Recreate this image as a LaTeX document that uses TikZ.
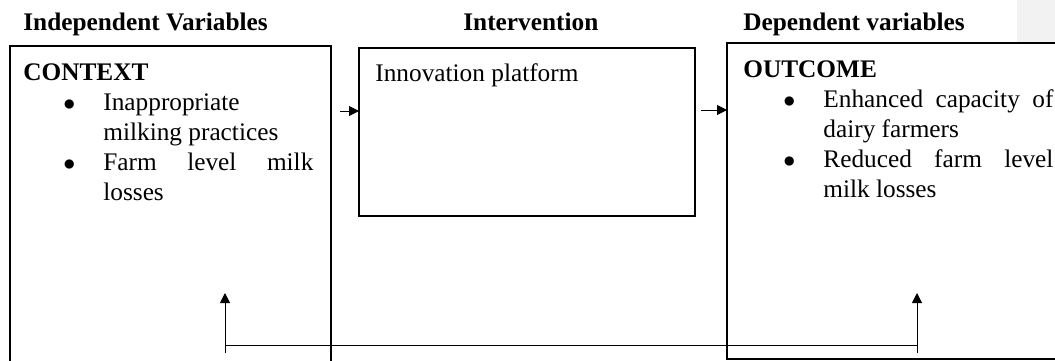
\documentclass[tikz,border=0pt]{standalone}
\usepackage{fontspec}
\setmainfont{Liberation Serif}
\usetikzlibrary{arrows.meta}
\tikzset{mybox/.style={draw,line width=0.6pt,inner sep=0pt,outer sep=0pt,anchor=north west},
mytext/.style={inner sep=0pt,align=left,anchor=north west,font=\fontsize{12.65}{15}\selectfont},
myhead/.style={inner sep=0pt,anchor=base west,font=\fontsize{12.65}{15}\selectfont\bfseries},
myarrow/.style={line width=0.5pt,-{Triangle[length=5pt,width=5pt]}}}
\newcommand{\mybullet}{\hspace*{20pt}\makebox[20pt][l]{$\bullet$}}
\newcommand{\myindent}{\hspace*{40pt}}
\begin{document}
\begin{tikzpicture}[x=0.5pt,y=-0.5pt]
\clip (0,0) rectangle (1055,360);
\fill[black!5] (1017,0) rectangle (1055,43);
% headings
\node[myhead] (hindep) at (23,30) {Independent Variables};
\node[myhead] (hinter) at (463,30) {Intervention};
\node[myhead] (hdep) at (743,30) {Dependent variables};
% boxes
\node[mybox,minimum width=160.5pt,minimum height=160pt] (ctx) at (10,46) {};
\node[mybox,line width=0.7pt,minimum width=168pt,minimum height=84pt] (ipf) at (359,48) {};
\node[mybox,minimum width=167.5pt,minimum height=158pt] (out) at (727,43) {};
\node[mytext] (ctxtext) at ([xshift=6.5pt,yshift=-8.5pt]ctx.north west)
  {\textbf{CONTEXT}\\ \mybullet Inappropriate\\ \myindent milking practices\\
   \mybullet\makebox[105pt][s]{Farm level milk}\\ \myindent losses};
\node[mytext] (ipftext) at ([xshift=8pt,yshift=-7.5pt]ipf.north west) {Innovation platform};
\node[mytext] (outtext) at ([xshift=8pt,yshift=-8.5pt]out.north west)
  {\textbf{OUTCOME}\\ \mybullet\makebox[115pt][s]{Enhanced capacity of}\\ \myindent dairy farmers\\
   \mybullet\makebox[115pt][s]{Reduced farm level}\\ \myindent milk losses};
% arrows
\coordinate (a1) at (340,111);
\coordinate (a2) at (701,110);
\draw[myarrow] (a1) -- (a1 -| ipf.west);
\draw[myarrow] (a2) -- (a2 -| out.west);
% feedback
\coordinate (fbl) at (225,345);
\coordinate (fbr) at (917,345);
\draw[line width=0.5pt] (fbl) -- (fbr);
\draw[myarrow] ([yshift=-4pt]fbl) -- ++(0,-60);
\draw[myarrow] ([yshift=-4pt]fbr) -- ++(0,-60);
\end{tikzpicture}
\end{document}
